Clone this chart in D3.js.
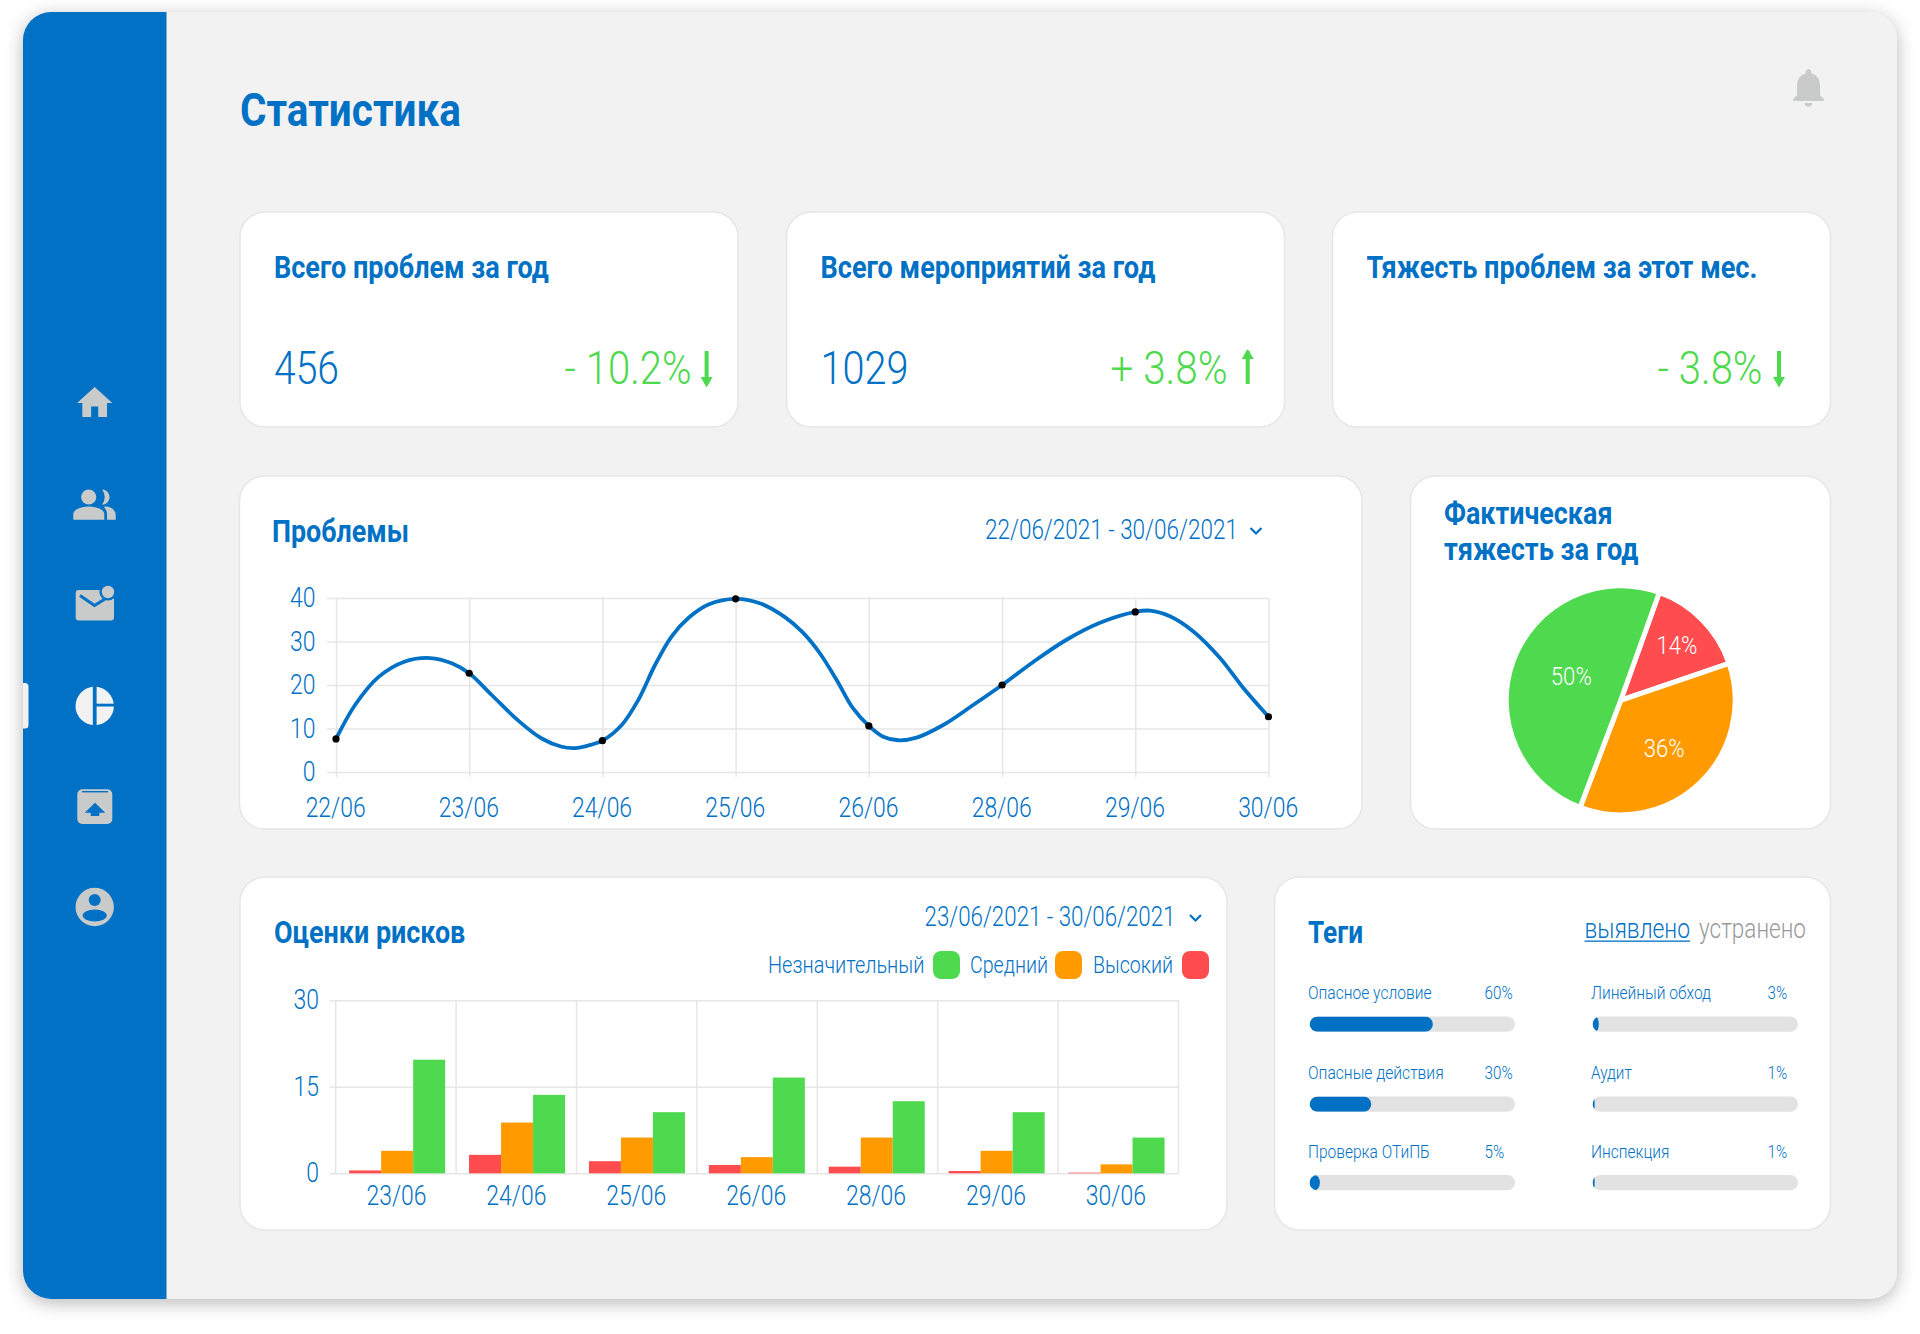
<!DOCTYPE html>
<html>
<head>
<meta charset="utf-8">
<script src="https://cdn.jsdelivr.net/npm/d3@7"></script>
<style>
  html, body { margin: 0; padding: 0; background: #fff; }
  svg { display: block; }
  text { font-family: Roboto, sans-serif; }
</style>
</head>
<body>
<svg id="page" width="1920" height="1334"></svg>
<script>
// ---- data ----
const kpiTitles = ["Всего проблем за год", "Всего мероприятий за год", "Тяжесть проблем за этот мес."]
const kpiValues = ["456", "1029", ""]
const kpiDeltas = ["- 10.2%", "+ 3.8%", "- 3.8%"]
const kpiDirections = ["down", "up", "down"]

const lineDates = ["22/06", "23/06", "24/06", "25/06", "26/06", "28/06", "29/06", "30/06"]
const lineValues = [7.6, 22.7, 7.2, 39.8, 10.6, 20, 36.8, 12.7]
const lineTicks = [0, 10, 20, 30, 40]
const curvePositions = [0, .143, .318, .518, .706, .869, 1, 1.169, 1.369, 1.544, 1.695, 1.795, 1.895, 2, 2.145, 2.27, 2.395, 2.52, 2.645, 2.796, 3, 3.197, 3.37, 3.5, 3.632, 3.757, 3.882, 4, 4.108, 4.22, 4.358, 4.558, 4.783, 5, 5.234, 5.484, 5.735, 6, 6.11, 6.26, 6.436, 6.636, 6.811, 7]
const curveValues = [7.6, 15.4, 21.8, 25.4, 26.2, 25, 22.7, 17.7, 11.8, 7.7, 5.8, 5.5, 6.1, 7.2, 10.8, 16.6, 24.6, 31.2, 35.4, 38.5, 39.8, 38.6, 35.6, 32.2, 27.3, 21.2, 14.6, 10.6, 8.1, 7.3, 7.9, 10.8, 15.4, 20, 25.3, 30.4, 34.3, 36.8, 37.1, 35.8, 32.3, 26.2, 19.3, 12.7]

const pieLabels = ["14%", "36%", "50%"]
const pieValues = [14.3, 36, 49.7]

const barDates = ["23/06", "24/06", "25/06", "26/06", "28/06", "29/06", "30/06"]
const barTicks = [0, 15, 30]
const highValues = [.5, 3.2, 2.1, 1.45, 1.15, .4, .12]
const mediumValues = [3.9, 8.8, 6.2, 2.8, 6.2, 3.9, 1.55]
const minorValues = [19.7, 13.6, 10.6, 16.6, 12.5, 10.6, 6.2]
const legendLabels = ["Незначительный", "Средний", "Высокий"]

const tagLabels = ["Опасное условие", "Опасные действия", "Проверка ОТиПБ", "Линейный обход", "Аудит", "Инспекция"]
const tagValues = [60, 30, 5, 3, 1, 1]

// ---- colours ----
const blue = "#0071C5", green = "#4FD94F", orange = "#FF9B00", red = "#FF4D4F"
const grid = "#E6E6E6", iconGrey = "#C9CBCB", bgGrey = "#F2F2F2"

const svg = d3.select("#page")
const defs = svg.append("defs")

const shadow = defs.append("filter").attr("id", "shadow")
    .attr("x", "-5%").attr("y", "-5%").attr("width", "110%").attr("height", "110%")
shadow.append("feDropShadow").attr("dx", 0).attr("dy", 4).attr("stdDeviation", 9)
    .attr("flood-color", "#000").attr("flood-opacity", .28)

// Roboto Condensed is not installed, so plain Roboto gets squeezed
const squeeze = .85

function label(parent, x, y, str, size, weight, color, anchor, width) {
    const t = parent.append("text")
        .attr("font-size", size).attr("font-weight", weight).attr("fill", color)
        .attr("text-anchor", anchor || "start").text(str)
    let sx = squeeze
    if (width) sx = width / t.node().getComputedTextLength()
    t.attr("transform", `translate(${x},${y}) scale(${sx},1)`)
    return t
}

function card(x, y, w, h) {
    svg.append("rect").attr("x", x).attr("y", y).attr("width", w).attr("height", h).attr("rx", 25)
        .attr("fill", "#fff").attr("stroke", grid).attr("stroke-width", 1.5)
}

function chevron(x, y) {
    svg.append("path").attr("d", `M${x},${y}l5.5,5.5l5.5,-5.5`).attr("fill", "none")
        .attr("stroke", blue).attr("stroke-width", 2.2)
}

// ---- frame ----
svg.append("rect").attr("x", 23).attr("y", 12).attr("width", 1874).attr("height", 1287).attr("rx", 28)
    .attr("fill", bgGrey).attr("filter", "url(#shadow)")
defs.append("clipPath").attr("id", "frameClip").append("rect")
    .attr("x", 23).attr("y", 12).attr("width", 1874).attr("height", 1287).attr("rx", 28)
svg.append("rect").attr("x", 23).attr("y", 12).attr("width", 143.5).attr("height", 1287)
    .attr("fill", blue).attr("clip-path", "url(#frameClip)")

// sidebar tab
svg.append("path").attr("d", "M23,683h2a3.5,3.5 0 0 1 3.5,3.5v38.5a3.5,3.5 0 0 1 -3.5,3.5h-2z").attr("fill", bgGrey)

// ---- sidebar icons ----
const homeIcon = svg.append("g").attr("transform", "translate(73.5,381.7) scale(1.765)")
homeIcon.append("path").attr("d", "M10 20v-6h4v6h5v-8h3L12 3 2 12h3v8z").attr("fill", iconGrey)

const people = svg.append("g").attr("fill", iconGrey)
people.append("path").attr("d", "M102,489.5a7.6,7.6 0 0 1 0,15.2a12,12 0 0 0 0,-15.2z")
people.append("path").attr("d", "M107,506.5c5,1 8.7,4 8.7,8.5v4.8h-8.7v-5.5c0,-3 -1,-5.5 -3.5,-7.5z")
people.append("circle").attr("cx", 88.7).attr("cy", 497).attr("r", 7.6)
people.append("path").attr("d", "M73.3,519.8v-5.5c0,-5 8,-7.8 15.5,-7.8s15.5,2.8 15.5,7.8v5.5z")

svg.append("rect").attr("x", 75.7).attr("y", 590).attr("width", 38.3).attr("height", 30.6).attr("rx", 3).attr("fill", iconGrey)
svg.append("path").attr("d", "M80,595.4L94.5,605.5L105,599").attr("fill", "none").attr("stroke", blue).attr("stroke-width", 3)
svg.append("circle").attr("cx", 108).attr("cy", 592).attr("r", 8.6).attr("fill", blue)
svg.append("circle").attr("cx", 108).attr("cy", 592).attr("r", 6.2).attr("fill", iconGrey)

svg.append("circle").attr("cx", 94.7).attr("cy", 706).attr("r", 19.2).attr("fill", bgGrey)
svg.append("rect").attr("x", 92.8).attr("y", 685).attr("width", 3.8).attr("height", 42).attr("fill", blue)
svg.append("rect").attr("x", 96).attr("y", 703.7).attr("width", 20).attr("height", 2.8).attr("fill", blue)

svg.append("rect").attr("x", 77.3).attr("y", 789.3).attr("width", 35).attr("height", 34.7).attr("rx", 5).attr("fill", iconGrey)
svg.append("rect").attr("x", 82).attr("y", 791).attr("width", 26).attr("height", 1.4).attr("fill", blue)
svg.append("path").attr("d", "M95,802.7L105.3,812.7H99.3V816H90.7V812.7H84.7z").attr("fill", blue)

svg.append("circle").attr("cx", 94.7).attr("cy", 907).attr("r", 19.2).attr("fill", iconGrey)
svg.append("circle").attr("cx", 94.7).attr("cy", 900).attr("r", 6).attr("fill", blue)
svg.append("ellipse").attr("cx", 94.7).attr("cy", 915.5).attr("rx", 12).attr("ry", 6).attr("fill", blue)

// bell
svg.append("g").attr("transform", "translate(1785.5,64.5) scale(1.92)").append("path")
    .attr("d", "M12 22c1.1 0 2-.9 2-2h-4c0 1.1.89 2 2 2zm6-6v-5c0-3.07-1.64-5.64-4.5-6.32V4c0-.83-.67-1.5-1.5-1.5s-1.5.67-1.5 1.5v.68C7.63 5.36 6 7.92 6 11v5l-2 2v1h16v-1l-2-2z")
    .attr("fill", iconGrey)

label(svg, 240, 126, "Статистика", 47, 700, blue, "start", 221)

// ---- kpi cards ----
const kpiLeft = [240, 786.5, 1332.5]
const kpiTitleWidth = [275, 335, 391]
const kpiValueWidth = [65, 88, 0]
const kpiDeltaRight = [691.5, 1227.5, 1762.5]
const kpiDeltaWidth = [127, 117, 105]
const kpiArrow = [706.6, 1247.7, 1779]

kpiTitles.forEach((t, i) => {
    card(kpiLeft[i], 212, 498, 215)
    label(svg, kpiLeft[i] + 34, 278, t, 30.5, 700, blue, "start", kpiTitleWidth[i])
    if (kpiValues[i]) label(svg, kpiLeft[i] + 34, 383.5, kpiValues[i], 47, 300, blue, "start", kpiValueWidth[i])
    label(svg, kpiDeltaRight[i], 383.5, kpiDeltas[i], 47, 300, green, "end", kpiDeltaWidth[i])

    const ax = kpiArrow[i]
    svg.append("line").attr("x1", ax).attr("x2", ax).attr("y1", 351).attr("y2", 384)
        .attr("stroke", green).attr("stroke-width", 4)
    const tip = kpiDirections[i] == "down" ? [387.5, 377] : [349, 359]
    svg.append("path").attr("d", `M${ax},${tip[0]}L${ax - 6},${tip[1]}H${ax + 6}z`).attr("fill", green)
})

// ---- line chart card ----
card(239.5, 476, 1122.5, 353)
label(svg, 272, 542, "Проблемы", 30.5, 700, blue, "start", 137)
label(svg, 985, 539, "22/06/2021 - 30/06/2021", 27, 300, blue, "start", 253)
chevron(1250.5, 528)

const lineX = d3.scaleLinear().domain([0, 7]).range([336, 1268.5])
const lineY = d3.scaleLinear().domain([0, 40]).range([772, 598])
const lineG = svg.append("g")

function styleAxis(g, sx) {
    g.select(".domain").remove()
    g.selectAll(".tick line").attr("stroke", grid).attr("stroke-width", 1.5)
    g.selectAll(".tick text").attr("fill", blue).attr("font-size", 27).attr("font-weight", 300)
        .attr("font-family", "Roboto, sans-serif")
        .attr("transform", `scale(${sx},1)`)
}

const lineAxisY = lineG.append("g").attr("transform", "translate(327,0)")
    .call(d3.axisLeft(lineY).tickValues(lineTicks).tickSize(-(1268.5 - 327)).tickPadding(0))
styleAxis(lineAxisY, squeeze)
lineAxisY.selectAll(".tick text").attr("x", -11.5 / squeeze)

const lineAxisX = lineG.append("g").attr("transform", "translate(0,777)")
    .call(d3.axisBottom(lineX).tickValues(d3.range(lineDates.length))
        .tickFormat(i => lineDates[i]).tickSize(-179).tickPadding(20.8))
styleAxis(lineAxisX, squeeze)
lineAxisX.selectAll(".tick text").attr("x", -1)

lineG.append("path").datum(curvePositions)
    .attr("fill", "none").attr("stroke", blue).attr("stroke-width", 3.8)
    .attr("d", d3.line().x(d => lineX(d)).y((d, i) => lineY(curveValues[i])).curve(d3.curveCatmullRom))

lineG.selectAll("circle").data(lineValues).join("circle")
    .attr("cx", (d, i) => lineX(i)).attr("cy", d => lineY(d)).attr("r", 3.6).attr("fill", "#000")

// ---- pie card ----
card(1410.5, 476, 420, 353)
label(svg, 1444, 524, "Фактическая", 30.5, 700, blue, "start", 168.5)
label(svg, 1444, 560, "тяжесть за год", 30.5, 700, blue, "start", 194.5)

const pieG = svg.append("g").attr("transform", "translate(1620.7,700.3)")
const pieColors = [red, orange, green]
const pieStart = 19.7 * Math.PI / 180
const pieArcs = d3.pie().sort(null).startAngle(pieStart).endAngle(pieStart + 2 * Math.PI)(pieValues)
pieG.selectAll("path").data(pieArcs).join("path")
    .attr("d", d3.arc().innerRadius(0).outerRadius(114.5))
    .attr("fill", (d, i) => pieColors[i]).attr("stroke", "#fff").attr("stroke-width", 5)

const pieLabelRadius = [79, 64, 58]
const pieLabelNudge = [[0, 0], [-1, 2], [5, -4.5]]
pieArcs.forEach((d, i) => {
    const c = d3.arc().innerRadius(pieLabelRadius[i]).outerRadius(pieLabelRadius[i]).centroid(d)
    label(pieG, c[0] + pieLabelNudge[i][0], c[1] + 9 + pieLabelNudge[i][1], pieLabels[i], 25.5, 300, "#fff", "middle", 41)
})

// ---- bar card ----
card(240, 877, 987, 353)
label(svg, 274, 943, "Оценки рисков", 30.5, 700, blue, "start", 191.5)
label(svg, 924.6, 926, "23/06/2021 - 30/06/2021", 27, 300, blue, "start", 251)
chevron(1190, 915)

const legendX = [768, 970, 1093]
const legendW = [156.6, 78, 80]
const swatchX = [933, 1055, 1182]
const legendColors = [green, orange, red]
legendLabels.forEach((t, i) => {
    label(svg, legendX[i], 973, t, 24, 300, blue, "start", legendW[i])
    svg.append("rect").attr("x", swatchX[i]).attr("y", 951).attr("width", 27).attr("height", 28).attr("rx", 8)
        .attr("fill", legendColors[i])
})

// the grid is a touch wider than the bars in the original
const gridX = d3.scaleLinear().domain([0, barDates.length]).range([335.7, 1178.5])
const barX = d3.scaleBand().domain(barDates).range([336.5, 1175.8])
const barInner = d3.scaleBand().domain(["high", "medium", "minor"]).range([.7, barX.bandwidth() + .7]).paddingOuter(.373)
const barY = d3.scaleLinear().domain([0, 30]).range([1173.3, 1000.3])
const barG = svg.append("g")

const barAxisY = barG.append("g").attr("transform", "translate(330,0)")
    .call(d3.axisLeft(barY).tickValues(barTicks).tickSize(-(1178.5 - 330)).tickPadding(0))
styleAxis(barAxisY, squeeze)
barAxisY.selectAll(".tick text").attr("x", -11 / squeeze)

barG.selectAll(".vgrid").data(d3.range(barDates.length + 1)).join("line").attr("class", "vgrid")
    .attr("x1", d => gridX(d)).attr("x2", d => gridX(d))
    .attr("y1", barY(30)).attr("y2", barY(0))
    .attr("stroke", grid).attr("stroke-width", 1.5)

const barAxisX = barG.append("g").attr("transform", "translate(0,1173.3)")
    .call(d3.axisBottom(barX).tickSize(0).tickPadding(12.5))
styleAxis(barAxisX, squeeze)

const barSeries = [
    { key: "high", values: highValues, color: red },
    { key: "medium", values: mediumValues, color: orange },
    { key: "minor", values: minorValues, color: green }
]
barSeries.forEach(s => {
    barG.selectAll(".bar-" + s.key).data(s.values).join("rect").attr("class", "bar-" + s.key)
        .attr("x", (d, i) => barX(barDates[i]) + barInner(s.key))
        .attr("width", barInner.bandwidth())
        .attr("y", d => barY(d))
        .attr("height", d => barY(0) - barY(d))
        .attr("fill", s.color)
})

// ---- tags card ----
card(1274.5, 877, 556, 353)
label(svg, 1308, 943, "Теги", 30.5, 700, blue, "start", 55)
label(svg, 1584.5, 938, "выявлено", 27, 300, blue, "start", 105.5)
svg.append("rect").attr("x", 1584.5).attr("y", 940.5).attr("width", 105.5).attr("height", 1.3).attr("fill", blue)
label(svg, 1699, 938, "устранено", 27, 300, "#999", "start", 107)

const tagLeft = [1308, 1591]
const barLeft = [1309.6, 1592.6]
const pctLeft = [1484.6, 1767.6]
const tagRowText = [999, 1079, 1158]
const tagRowBar = [1016.5, 1096.5, 1175]
const tagLabelWidth = [123.6, 135.8, 122, 120, 40.7, 78.4]
const tagX = d3.scaleLinear().domain([0, 100]).range([0, 205.4])

tagLabels.forEach((t, i) => {
    const col = Math.floor(i / 3), row = i % 3
    label(svg, tagLeft[col], tagRowText[row], t, 19, 300, blue, "start", tagLabelWidth[i])
    label(svg, pctLeft[col], tagRowText[row], tagValues[i] + "%", 19, 300, blue).attr("transform",
        `translate(${pctLeft[col]},${tagRowText[row]}) scale(.8,1)`)
    const clipId = "tagClip" + i
    defs.append("clipPath").attr("id", clipId).append("rect")
        .attr("x", barLeft[col]).attr("y", tagRowBar[row]).attr("width", tagX(100)).attr("height", 15.3).attr("rx", 7.6)
    svg.append("rect").attr("x", barLeft[col]).attr("y", tagRowBar[row]).attr("width", tagX(100)).attr("height", 15.3)
        .attr("rx", 7.6).attr("fill", "#E2E2E2")
    svg.append("rect").attr("x", barLeft[col]).attr("y", tagRowBar[row]).attr("width", tagX(tagValues[i])).attr("height", 15.3)
        .attr("rx", 7.6).attr("fill", blue).attr("clip-path", `url(#${clipId})`)
})
</script>
</body>
</html>
